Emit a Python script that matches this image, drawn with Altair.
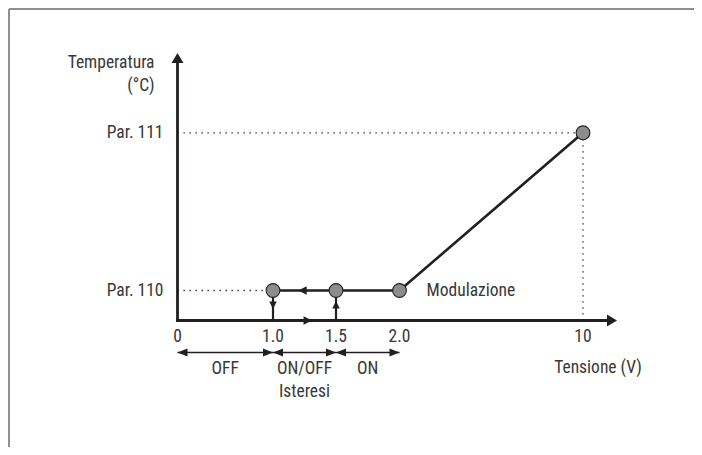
import altair as alt
import pandas as pd

# ---------------- data ----------------
tick_values = [0, 1.0, 1.5, 2.0, 10]
tick_labels = ["0", "1.0", "1.5", "2.0", "10"]
par_levels = [110, 111]
par_labels = ["Par. 110", "Par. 111"]
curve_volts = [1.0, 1.5, 2.0, 10]
curve_temps = [110, 110, 110, 111]
zone_labels = ["OFF", "ON/OFF", "ON"]
zone_start = [0, 1.0, 1.5]
zone_end = [1.0, 1.5, 2.0]
hyst_off_volt = 1.0   # switch-off threshold (arrow down)
hyst_on_volt = 1.5    # switch-on threshold (arrow up)
x_axis_end = 11
y_axis_end = 112

# ---------------- style ----------------
INK = "#231f20"
TXT = "#383838"
FONT = ("Roboto Condensed, Noto Sans Condensed, Liberation Sans Narrow, "
        "Arial Narrow, DejaVu Sans Condensed, sans-serif")
FS = 17.5
W, H = 686, 439

xs = alt.Scale(domain=[0, 1, 1.5, 2, 10, 11],
               range=[169.5, 265, 328, 391.5, 575, 609], nice=False, zero=False)
ys = alt.Scale(domain=[0, 110, 111, 112],
               range=[312.5, 282.5, 124.8, 45], nice=False, zero=False)

def X(f="x"):
    return alt.X(f"{f}:Q", scale=xs, axis=None)

def Y(f="y"):
    return alt.Y(f"{f}:Q", scale=ys, axis=None)

one = pd.DataFrame({"a": [0]})

# frame border (top + left)
border_top = alt.Chart(one).mark_rule(color="#8f8f8f", strokeWidth=2).encode(
    x=alt.value(1), x2=alt.value(W), y=alt.value(1))
border_left = alt.Chart(one).mark_rule(color="#8f8f8f", strokeWidth=2).encode(
    x=alt.value(1), y=alt.value(1), y2=alt.value(H))

# dotted guides
guides_df = pd.DataFrame({
    "x": [0, 0, curve_volts[-1]],
    "x2": [curve_volts[-1], curve_volts[0], curve_volts[-1]],
    "y": [par_levels[1], par_levels[0], 0],
    "y2": [par_levels[1], par_levels[0], par_levels[1]],
})
guides = alt.Chart(guides_df).mark_rule(
    color=INK, strokeWidth=1.3, strokeDash=[1.3, 4.7]).encode(
    x=X(), x2="x2:Q", y=Y(), y2="y2:Q")

# axes
x_axis = alt.Chart(pd.DataFrame({"x": [0], "x2": [x_axis_end], "y": [0]})).mark_rule(
    color=INK, strokeWidth=2.8, x2Offset=-5, strokeCap="square").encode(
    x=X(), x2="x2:Q", y=Y())
y_axis = alt.Chart(pd.DataFrame({"x": [0], "y": [0], "y2": [y_axis_end]})).mark_rule(
    color=INK, strokeWidth=2.8, y2Offset=5, strokeCap="square").encode(
    x=X(), y=Y(), y2="y2:Q")

# hysteresis verticals
vert_df = pd.DataFrame({"x": [hyst_off_volt, hyst_on_volt],
                        "y": [par_levels[0], 0], "y2": [0, par_levels[0]]})
verts = alt.Chart(vert_df).mark_rule(color=INK, strokeWidth=2.2).encode(
    x=X(), y=Y(), y2="y2:Q")

# main curve
curve_df = pd.DataFrame({"x": curve_volts, "y": curve_temps})
curve = alt.Chart(curve_df).mark_line(color=INK, strokeWidth=2.6).encode(x=X(), y=Y())
points = alt.Chart(curve_df).mark_point(
    filled=True, size=190, fill="#8c8c8e", stroke=INK, strokeWidth=1.1, opacity=1).encode(
    x=X(), y=Y())

# arrowheads (tip at origin)
BIG_R = "M0,0L-2,-1.2L-2,1.2Z"
BIG_U = "M0,0L-1.2,2L1.2,2Z"
SM_R = "M0,0L-2,-1L-2,1Z"
SM_L = "M0,0L2,-1L2,1Z"
SM_U = "M0,0L-1,2L1,2Z"
SM_D = "M0,0L-1,-2L1,-2Z"
ZN_R = "M0,0L-2,-0.8L-2,0.8Z"
ZN_L = "M0,0L2,-0.8L2,0.8Z"

def head(df, shape, size, **kw):
    return alt.Chart(df).mark_point(shape=shape, size=size, filled=True, color=INK,
                                    opacity=1, strokeWidth=0, **kw).encode(x=X(), y=Y())

heads = [
    head(pd.DataFrame({"x": [x_axis_end], "y": [0]}), BIG_R, 100),
    head(pd.DataFrame({"x": [0], "y": [y_axis_end]}), BIG_U, 100),
    head(pd.DataFrame({"x": [1.2], "y": [par_levels[0]]}), SM_L, 72),
    head(pd.DataFrame({"x": [1.31], "y": [0]}), SM_R, 72),
    head(pd.DataFrame({"x": [hyst_off_volt], "y": [0]}), SM_D, 56, yOffset=-11.5),
    head(pd.DataFrame({"x": [hyst_on_volt], "y": [0]}), SM_U, 56, yOffset=-19.5),
]

# zone double arrows
zone_df = pd.DataFrame({"x": zone_start, "x2": zone_end, "y": [0] * 3,
                        "label": zone_labels,
                        "mid": [(a + b) / 2 for a, b in zip(zone_start, zone_end)]})
zone_lines = alt.Chart(zone_df).mark_rule(color=INK, strokeWidth=1.6, yOffset=32).encode(
    x=X(), x2="x2:Q", y=Y())
zone_l = head(zone_df, ZN_L, 100, yOffset=32)
zone_r = alt.Chart(zone_df).mark_point(shape=ZN_R, size=100, filled=True, color=INK,
                                       opacity=1, strokeWidth=0, yOffset=32).encode(
    x=X("x2"), y=Y())

# texts
def txt(df, **kw):
    base = dict(font=FONT, fontSize=FS, fontWeight=400, color=TXT, baseline="middle")
    base.update(kw)
    return alt.Chart(df).mark_text(**base)

tick_df = pd.DataFrame({"x": tick_values, "y": [0] * 5, "t": tick_labels})
ticks = txt(tick_df, align="center", dy=16.5).encode(x=X(), y=Y(), text="t:N")

par_df = pd.DataFrame({"x": [0, 0], "y": par_levels, "t": par_labels})
pars = txt(par_df, align="right", dx=-14).encode(x=X(), y=Y(), text="t:N")

zone_txt = txt(zone_df, align="center", dy=48).encode(x=X("mid"), y=Y(), text="label:N")
ister = txt(pd.DataFrame({"x": [zone_df["mid"][1]], "y": [0], "t": ["Isteresi"]}),
            align="center", dy=71.5).encode(x=X(), y=Y(), text="t:N")

modul = txt(pd.DataFrame({"x": [curve_volts[2]], "y": [par_levels[0]], "t": ["Modulazione"]}),
            align="left", dx=27).encode(x=X(), y=Y(), text="t:N")
tens = txt(pd.DataFrame({"x": [curve_volts[-1]], "y": [0], "t": ["Tensione (V)"]}),
           align="center", dx=15, dy=47.5).encode(x=X(), y=Y(), text="t:N")
temp1 = txt(pd.DataFrame({"x": [0], "y": [y_axis_end], "t": ["Temperatura"]}),
            align="right", dx=-23, dy=10).encode(x=X(), y=Y(), text="t:N")
temp2 = txt(pd.DataFrame({"x": [0], "y": [y_axis_end], "t": ["(°C)"]}),
            align="right", dx=-23, dy=32.5).encode(x=X(), y=Y(), text="t:N")

chart = alt.layer(
    border_top, border_left, guides, x_axis, y_axis, verts, curve, points,
    *heads, zone_lines, zone_l, zone_r,
    ticks, pars, zone_txt, ister, modul, tens, temp1, temp2,
).properties(
    width=W, height=H, autosize=alt.AutoSizeParams(type="none"), padding=0,
    background="white",
).configure_view(stroke=None)

chart.save("out.html", embed_options={"renderer": "svg", "actions": False})
